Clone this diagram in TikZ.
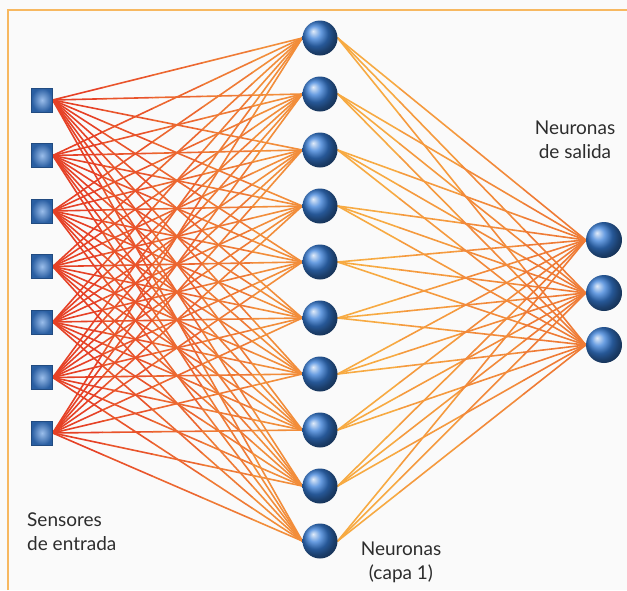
\documentclass[tikz,border=0pt]{standalone}
\usepackage{fontspec}
\setmainfont{Lato}
\usetikzlibrary{calc}
\pgfdeclarelayer{paper}
\pgfdeclarelayer{wires}
\pgfsetlayers{paper,wires,main}
\definecolor{frameorange}{RGB}{247,184,96}
\definecolor{wirered}{RGB}{230,65,38}
\definecolor{wireorange}{RGB}{247,170,66}
\definecolor{ballblue}{RGB}{55,125,215}
\definecolor{labelgrey}{RGB}{45,45,45}
\tikzset{
  sensor/.style={rectangle, minimum width=21pt, minimum height=24pt, inner sep=0pt,
    draw=ballblue!60!black, line width=0.4pt, inner color=ballblue!50!white, outer color=ballblue!75!black},
  neuron/.style={circle, minimum size=35pt, inner sep=0pt, shading=ball, ball color=ballblue},
  wire/.style={line width=1.6pt, line cap=round},
  caption/.style={font=\fontsize{19}{24}\selectfont, text=labelgrey, inner sep=0pt},
}
\begin{document}
\begin{tikzpicture}[x=1pt,y=-1pt]
  \useasboundingbox (0,0) rectangle (627,590);
  \begin{pgfonlayer}{paper}
    \fill[white!98!black] (0,0) rectangle (627,590);
  \end{pgfonlayer}
  % frame
  \draw[frameorange, line width=2pt] (8,590) -- (8,10) -- (627,10);

  % input sensors
  \foreach \i/\y in {1/100,2/155.5,3/211,4/266.5,5/322,6/377.5,7/433}
    \node[sensor] (s\i) at (42,\y) {};
  % first layer
  \foreach \j/\y in {1/38,2/94,3/150,4/206,5/262,6/318,7/374,8/430,9/486,10/541}
    \node[neuron] (h\j) at (320,\y) {};
  % output layer
  \foreach \k/\y in {1/240,2/293,3/345}
    \node[neuron, minimum size=36pt] (o\k) at (604,\y) {};

  \begin{pgfonlayer}{wires}
    % sensors to first layer: red at the sensor, orange at the neuron
    \foreach \i in {1,...,7}{
      \foreach \j in {1,...,10}{
        \foreach \p in {0,...,4}{
          \pgfmathtruncatemacro{\mix}{100-\p*18}
          \pgfmathsetmacro{\ta}{\p/5}
          \pgfmathsetmacro{\tb}{(\p+1)/5}
          \draw[wire, wirered!\mix!wireorange]
            ($(s\i.east)!\ta!(h\j.west)$) -- ($(s\i.east)!\tb!(h\j.west)$);
        }
      }
    }
    % first layer to outputs
    \foreach \j in {1,...,10}{
      \foreach \k in {1,...,3}{
        \foreach \p in {0,...,3}{
          \pgfmathtruncatemacro{\mix}{\p*15}
          \pgfmathsetmacro{\ta}{\p/4}
          \pgfmathsetmacro{\tb}{(\p+1)/4}
          \draw[wire, wirered!\mix!wireorange]
            ($(h\j.east)!\ta!(o\k.west)$) -- ($(h\j.east)!\tb!(o\k.west)$);
        }
      }
    }
  \end{pgfonlayer}

  % captions
  \node[caption, align=left, anchor=north west] (tin) at (27,513) {Sensores\\de entrada};
  \node[caption, align=center, anchor=north] (thid) at (401,542) {Neuronas\\(capa 1)};
  \node[caption, align=center, anchor=north] (tout) at (575,121) {Neuronas\\de salida};
\end{tikzpicture}
\end{document}
